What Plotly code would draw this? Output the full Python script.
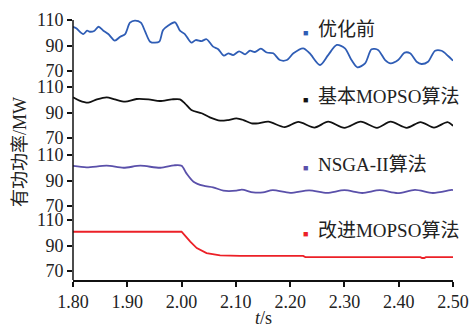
import plotly.graph_objects as go

# ---------------- data ----------------
t_before = [1.800, 1.806, 1.819, 1.826, 1.831, 1.839, 1.847, 1.856, 1.865, 1.877, 1.887, 1.896,
            1.905, 1.914, 1.925, 1.933, 1.942, 1.951, 1.959, 1.966, 1.975, 1.988, 1.997, 2.006,
            2.018, 2.026, 2.037, 2.046, 2.058, 2.067, 2.078, 2.086, 2.095, 2.106, 2.117, 2.126,
            2.135, 2.146, 2.157, 2.169, 2.181, 2.194, 2.206, 2.224, 2.236, 2.255, 2.270, 2.286,
            2.301, 2.313, 2.324, 2.338, 2.350, 2.362, 2.375, 2.385, 2.399, 2.411, 2.421, 2.433,
            2.442, 2.454, 2.467, 2.479, 2.491, 2.500]
p_before = [104.7, 103.5, 99.0, 101.6, 100.8, 101.4, 104.7, 101.6, 99.0, 93.8, 96.9, 99.0,
            107.9, 109.5, 107.9, 100.8, 93.0, 92.2, 93.0, 102.2, 105.5, 108.2, 101.6, 99.0,
            92.2, 94.3, 93.5, 94.9, 89.1, 87.3, 82.0, 83.9, 82.5, 85.4, 83.1, 85.9,
            84.9, 87.5, 84.5, 83.9, 78.6, 78.6, 83.9, 87.8, 83.9, 74.7, 82.5, 90.4,
            87.8, 78.6, 72.9, 76.0, 87.0, 86.5, 78.6, 76.0, 78.6, 84.4, 83.9, 77.3,
            75.5, 77.3, 85.9, 85.9, 81.8, 78.1]

t_mopso = [1.800, 1.812, 1.828, 1.844, 1.862, 1.877, 1.896, 1.917, 1.939, 1.960, 1.982, 1.997,
           2.006, 2.018, 2.037, 2.052, 2.071, 2.086, 2.101, 2.114, 2.129, 2.141, 2.160, 2.190,
           2.215, 2.245, 2.270, 2.300, 2.330, 2.360, 2.385, 2.415, 2.440, 2.465, 2.490, 2.500]
p_mopso = [101.9, 99.3, 97.7, 100.3, 101.9, 100.3, 98.5, 100.6, 100.3, 99.0, 100.3, 100.3,
           97.2, 92.0, 89.4, 86.2, 83.6, 84.1, 85.4, 84.1, 81.5, 81.5, 82.8, 78.5,
           82.6, 78.2, 82.8, 78.0, 82.8, 78.0, 82.8, 78.0, 82.5, 78.2, 82.5, 79.5]

t_nsga = [1.800, 1.825, 1.862, 1.893, 1.924, 1.961, 1.986, 2.000, 2.009, 2.022, 2.040, 2.058,
          2.077, 2.101, 2.111, 2.132, 2.150, 2.168, 2.200, 2.235, 2.268, 2.300, 2.333, 2.365,
          2.398, 2.430, 2.463, 2.498, 2.500]
p_nsga = [101.4, 100.3, 101.6, 100.0, 101.6, 100.0, 101.9, 101.6, 95.6, 89.1, 85.9, 84.7,
          82.0, 82.0, 82.8, 80.7, 80.7, 82.4, 80.3, 82.3, 80.3, 82.4, 80.2, 82.4,
          80.1, 82.6, 80.2, 82.6, 82.5]

t_improved = [1.800, 2.000, 2.008, 2.016, 2.028, 2.046, 2.071, 2.108, 2.224, 2.228, 2.440,
              2.443, 2.447, 2.450, 2.500]
p_improved = [100.8, 100.8, 97.0, 93.0, 88.0, 84.0, 82.3, 81.9, 81.8, 80.9, 80.9,
              80.2, 80.2, 80.9, 80.9]

series_names = ["优化前", "基本MOPSO算法", "NSGA-II算法", "改进MOPSO算法"]
colors = ["#2f5db5", "#111111", "#5a50aa", "#ec2027"]
x_ticks = [1.8, 1.9, 2.0, 2.1, 2.2, 2.3, 2.4, 2.5]
y_ticks = [70, 90, 110]

# ---------------- layout geometry ----------------
W, H = 472, 331
L, R, T, B = 73, 19, 10, 51
PH = H - T - B  # 270
BOT = T + PH    # 280


def py(p):
    return (BOT - p) / PH


def px(p):
    return (p - L) / (W - L - R)


SCALE = 1.275  # px per MW
panels = [  # (pixel of 110, domain top px, domain bottom px)
    (20, 10, 85),
    (87, 80, 150),
    (155, 148, 215),
    (220, 213, 280),
]

FONT = "Liberation Serif, Times New Roman, Noto Sans CJK SC, serif"

fig = go.Figure()
data = [(t_before, p_before, 'spline'), (t_mopso, p_mopso, 'spline'),
        (t_nsga, p_nsga, 'spline'), (t_improved, p_improved, 'linear')]
for i, (tx, vy, shp) in enumerate(data):
    line = dict(color=colors[i], width=1.8, shape=shp)
    if shp == 'spline':
        line['smoothing'] = 0.8
    fig.add_trace(go.Scatter(x=tx, y=vy, mode='lines', line=line,
                             name=series_names[i], showlegend=False,
                             xaxis='x', yaxis='y' if i == 0 else f'y{i+1}'))

layout = dict(
    width=W, height=H,
    margin=dict(l=L, r=R, t=T, b=B),
    paper_bgcolor='white', plot_bgcolor='rgba(0,0,0,0)',
    font=dict(family=FONT, size=18, color='#222'),
    xaxis=dict(domain=[0, 1], range=[1.8, 2.5], anchor='y4',
               tickvals=x_ticks, ticktext=[f"{v:.2f}" for v in x_ticks],
               showline=True, linecolor='#111', linewidth=1.5,
               ticks='outside', ticklen=5, tickwidth=1.5, tickcolor='#111',
               showgrid=False, zeroline=False, automargin=False,
               tickfont=dict(family=FONT, size=18, color='#222')),
)
for i, (p110, top, bot) in enumerate(panels):
    rtop = 110 + (p110 - top) / SCALE
    rbot = 110 - (bot - p110) / SCALE
    key = 'yaxis' if i == 0 else f'yaxis{i+1}'
    layout[key] = dict(domain=[py(bot), py(top)], range=[rbot, rtop], anchor='x',
                       tickvals=y_ticks, showline=False, showgrid=False, zeroline=False,
                       ticks='outside', ticklen=5, tickwidth=1.5, tickcolor='#111',
                       automargin=False,
                       tickfont=dict(family=FONT, size=18, color='#222'))
fig.update_layout(**layout)

# continuous y axis line
fig.add_shape(type='line', xref='paper', yref='paper', x0=0, x1=0, y0=0, y1=py(20),
              line=dict(color='#111', width=1.5))

# legend-like labels
leg_y = [29, 97, 164, 230]
for i, name in enumerate(series_names):
    fig.add_annotation(xref='paper', yref='paper', x=px(301), y=py(leg_y[i]),
                       xanchor='left', yanchor='middle', showarrow=False,
                       text=f"<span style='color:{colors[i]};font-size:9px'>■</span>\u00a0\u00a0{name}",
                       font=dict(family=FONT, size=19, color='#222'))

# axis titles
fig.add_annotation(xref='paper', yref='paper', x=px(263), y=py(318), showarrow=False,
                   xanchor='center', yanchor='middle', text="<i>t</i>/s",
                   font=dict(family=FONT, size=18, color='#222'))
fig.add_annotation(xref='paper', yref='paper', x=px(20), y=py(152), showarrow=False,
                   xanchor='center', yanchor='middle', textangle=-90, text="有功功率/MW",
                   font=dict(family=FONT, size=18, color='#222'))

fig.write_html("out.html", config={"displayModeBar": False},
               post_script="document.body.style.margin='0';document.body.style.overflow='hidden';")
